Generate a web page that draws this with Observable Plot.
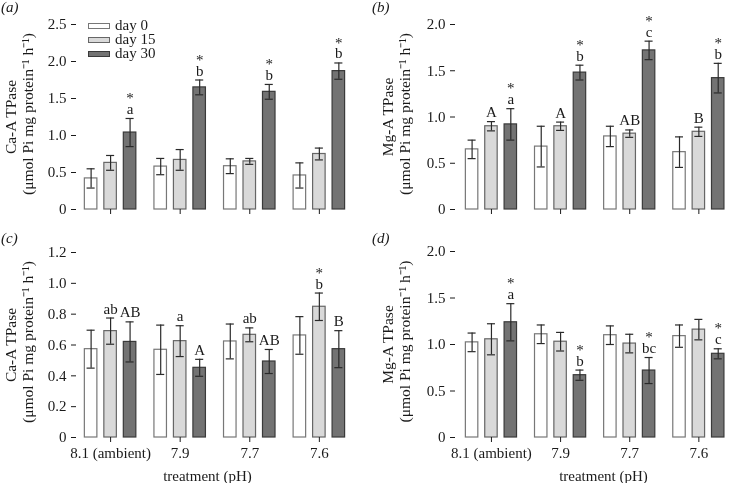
<!DOCTYPE html>
<html><head><meta charset="utf-8">
<script src="https://cdn.jsdelivr.net/npm/d3@7"></script>
<script src="https://cdn.jsdelivr.net/npm/@observablehq/plot@0.6"></script>
<style>
body{margin:0;background:#fff}
#wrap{position:relative;width:736px;height:483px;font-family:"Liberation Serif","Times New Roman",serif;color:#1a1a1a}
.panel{position:absolute;will-change:transform}
.plab{position:absolute;font-style:italic;font-size:15px;line-height:15px}
.sw{position:absolute;width:20px;height:4px;border:1px solid #555}
.lt{position:absolute;font-size:15px;line-height:15px}
</style>
</head><body><div id="wrap"></div>
<script>
const groups = ["8.1 (ambient)", "7.9", "7.7", "7.6"];
const days = ["day 0", "day 15", "day 30"];
const dayFills = ["#ffffff", "#d9d9d9", "#737373"];
const dayStrokes = ["#777777", "#666666", "#3a3a3a"];

// (a) Ca-ATPase, top row
const aMean = [[0.42,0.63,1.04],[0.58,0.67,1.65],[0.585,0.65,1.59],[0.46,0.75,1.87]];
const aErr  = [[0.13,0.10,0.19],[0.11,0.14,0.10],[0.10,0.04,0.10],[0.17,0.08,0.11]];
const aLetters = [["","","a"],["","","b"],["","","b"],["","","b"]];
const aStars = [[0,0,1],[0,0,1],[0,0,1],[0,0,1]];
const aTicks = [0,0.5,1.0,1.5,2.0,2.5];

// (b) Mg-ATPase, top row
const bMean = [[0.65,0.90,0.92],[0.68,0.90,1.48],[0.79,0.82,1.72],[0.62,0.84,1.42]];
const bErr  = [[0.10,0.05,0.17],[0.22,0.045,0.08],[0.11,0.04,0.10],[0.165,0.05,0.16]];
const bLetters = [["","A","a"],["","A","b"],["","AB","c"],["","B","b"]];
const bStars = [[0,0,1],[0,0,1],[0,0,1],[0,0,1]];
const bTicks = [0,0.5,1.0,1.5,2.0];

// (c) Ca-ATPase, bottom row
const cMean = [[0.573,0.69,0.62],[0.569,0.625,0.452],[0.623,0.666,0.493],[0.662,0.848,0.573]];
const cErr  = [[0.123,0.085,0.13],[0.16,0.10,0.055],[0.113,0.045,0.078],[0.122,0.089,0.12]];
const cLetters = [["","ab","AB"],["","a","A"],["","ab","AB"],["","b","B"]];
const cStars = [[0,0,0],[0,0,0],[0,0,0],[0,1,0]];
const cTicks = [0,0.2,0.4,0.6,0.8,1.0,1.2];

// (d) Mg-ATPase, bottom row
const dMean = [[1.023,1.056,1.239],[1.11,1.03,0.67],[1.10,1.01,0.72],[1.09,1.16,0.90]];
const dErr  = [[0.10,0.167,0.20],[0.10,0.10,0.055],[0.10,0.10,0.14],[0.12,0.11,0.054]];
const dLetters = [["","","a"],["","","b"],["","","bc"],["","","c"]];
const dStars = [[0,0,1],[0,0,1],[0,0,1],[0,0,1]];
const dTicks = [0,0.5,1.0,1.5,2.0];

const caLabel1 = "Ca-A TPase";
const mgLabel1 = "Mg-A TPase";
const unitLabel = "(μmol Pi mg protein⁻¹ h⁻¹)";
const xTitle = "treatment (pH)";

const fmt = d => d === 0 ? "0" : d.toFixed(1);

function panel(o) {
  const rows = [];
  o.mean.forEach((row, gi) => row.forEach((v, di) => rows.push({
    gi, di, day: days[di], v, e: o.err[gi][di],
    note: (o.stars[gi][di] ? "*\n" : "") + o.letters[gi][di]
  })));
  const off = 0.28, hw = 0.09, cap = 0.058;
  rows.forEach(r => { r.xc = r.gi + (r.di - 1) * off; r.top = r.v + r.e; r.bot = r.v - r.e; });
  const marks = [
    Plot.rectY(rows, {x1: r => r.xc - hw, x2: r => r.xc + hw, y1: 0, y2: "v", fill: "day", stroke: r => dayStrokes[r.di], strokeWidth: 1.2}),
    Plot.ruleX(rows, {x: "xc", y1: "bot", y2: "top", stroke: "#2a2a2a", strokeWidth: 1.2}),
    Plot.ruleY(rows, {y: "top", x1: r => r.xc - cap, x2: r => r.xc + cap, stroke: "#2a2a2a", strokeWidth: 1.2}),
    Plot.ruleY(rows, {y: "bot", x1: r => r.xc - cap, x2: r => r.xc + cap, stroke: "#2a2a2a", strokeWidth: 1.2}),
    Plot.text(rows.filter(r => r.note), {x: "xc", y: "top", text: "note", lineAnchor: "bottom", lineHeight: 0.72, dy: -4.5, fill: "#1a1a1a"}),
    Plot.axisY({ticks: o.yTicks, tickSize: 5, tickPadding: 5, tickFormat: fmt, label: null, line: true}),
    Plot.axisX({ticks: [0,1,2,3], tickSize: 5, tickPadding: 5, tickFormat: i => o.showX ? groups[i] : "", label: null, line: true}),
    Plot.text([o.label1], {frameAnchor: "left", textAnchor: "middle", rotate: -90, dx: o.l1dx, text: d => d, lineAnchor: "middle", fill: "#1a1a1a", fontSize: 15.5}),
    Plot.text([unitLabel], {frameAnchor: "left", textAnchor: "middle", rotate: -90, dx: o.l2dx, dy: -3, text: d => d, lineAnchor: "middle", fill: "#1a1a1a", fontSize: 15.5})
  ];
  if (o.showX) marks.push(Plot.text([xTitle], {frameAnchor: "bottom", textAnchor: "middle", dy: 43, dx: o.tdx, lineAnchor: "bottom", text: d => d, fill: "#1a1a1a"}));
  const svg = Plot.plot({
    width: o.width, height: o.height,
    marginLeft: o.mL, marginRight: o.mR, marginTop: o.mT, marginBottom: o.mB,
    style: {fontFamily: '"Liberation Serif","Times New Roman",serif', fontSize: "15px", color: "#1a1a1a", background: "transparent", overflow: "visible"},
    x: {type: "linear", domain: o.xDomain},
    y: {domain: o.yDomain},
    color: {domain: days, range: dayFills},
    marks
  });
  svg.classList.add("panel");
  svg.style.left = o.left + "px";
  svg.style.top = o.top + "px";
  return svg;
}

const wrap = document.getElementById("wrap");
wrap.appendChild(panel({mean: aMean, err: aErr, letters: aLetters, stars: aStars, yTicks: aTicks, yDomain: [0, 2.5],
  xDomain: [-0.49, 3.62], left: 0, top: 0, width: 368, height: 235, mL: 76, mR: 6, mT: 24, mB: 26,
  label1: caLabel1, l1dx: -65, l2dx: -48, showX: false}));
wrap.appendChild(panel({mean: bMean, err: bErr, letters: bLetters, stars: bStars, yTicks: bTicks, yDomain: [0, 2.0],
  xDomain: [-0.52, 3.53], left: 368, top: 0, width: 368, height: 235, mL: 87, mR: 1, mT: 24, mB: 26,
  label1: mgLabel1, l1dx: -67, l2dx: -50, showX: false}));
wrap.appendChild(panel({mean: cMean, err: cErr, letters: cLetters, stars: cStars, yTicks: cTicks, yDomain: [0, 1.2],
  xDomain: [-0.49, 3.62], left: 0, top: 235, width: 368, height: 248, mL: 76, mR: 6, mT: 17, mB: 46,
  label1: caLabel1, l1dx: -65, l2dx: -48, showX: true, tdx: -12}));
wrap.appendChild(panel({mean: dMean, err: dErr, letters: dLetters, stars: dStars, yTicks: dTicks, yDomain: [0, 2.0],
  xDomain: [-0.52, 3.53], left: 368, top: 235, width: 368, height: 248, mL: 87, mR: 1, mT: 16, mB: 46,
  label1: mgLabel1, l1dx: -67, l2dx: -50, showX: true, tdx: 8}));

// panel letters
[["(a)", 1, 0], ["(b)", 372, 0], ["(c)", 1, 231], ["(d)", 372, 231]].forEach(([t, x, y]) => {
  const d = document.createElement("div");
  d.className = "plab"; d.textContent = t; d.style.left = x + "px"; d.style.top = y + "px";
  wrap.appendChild(d);
});

// legend in panel (a)
const legendY = [26, 40, 54];
days.forEach((day, i) => {
  const s = document.createElement("div");
  s.className = "sw"; s.style.left = "88px"; s.style.top = (legendY[i] - 3) + "px";
  s.style.background = dayFills[i]; s.style.borderColor = dayStrokes[i];
  wrap.appendChild(s);
  const t = document.createElement("div");
  t.className = "lt"; t.textContent = day; t.style.left = "115px"; t.style.top = (legendY[i] - 8.5) + "px";
  wrap.appendChild(t);
});
</script>
</body></html>
